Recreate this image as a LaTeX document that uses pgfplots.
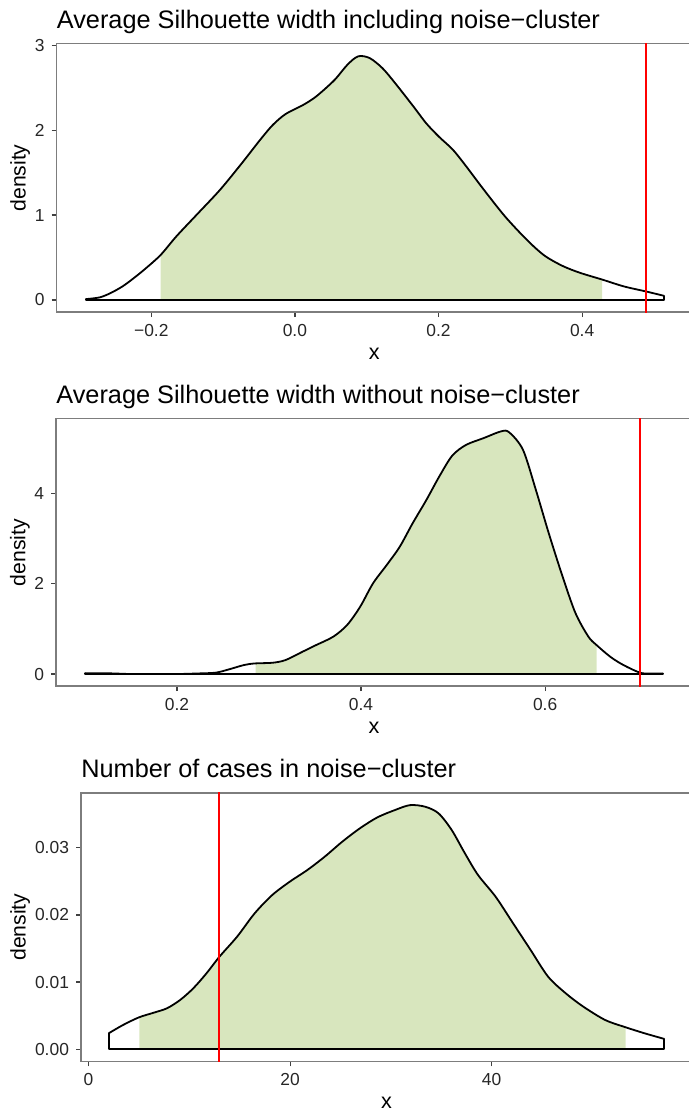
\documentclass[border=0pt]{standalone}
\usepackage{fontspec}
\setmainfont{Liberation Sans}
\usepackage{pgfplots}
\usepackage{pgfplotstable}
\pgfplotsset{compat=1.18}
\usepgfplotslibrary{fillbetween}
\definecolor{fillg}{RGB}{216,230,190}
\definecolor{framec}{RGB}{125,125,125}

\pgfplotstableread{
x y
-0.291 0.01
-0.272 0.03
-0.257 0.08
-0.240 0.16
-0.224 0.26
-0.208 0.37
-0.187 0.53
-0.165 0.75
-0.135 1.02
-0.104 1.30
-0.074 1.61
-0.049 1.88
-0.031 2.06
-0.013 2.19
0.012 2.30
0.030 2.40
0.055 2.59
0.073 2.77
0.088 2.87
0.104 2.85
0.122 2.73
0.140 2.55
0.165 2.28
0.183 2.08
0.201 1.92
0.220 1.77
0.238 1.58
0.263 1.30
0.293 0.98
0.324 0.70
0.348 0.52
0.373 0.40
0.397 0.32
0.428 0.24
0.458 0.16
0.489 0.10
0.5135 0.05
}\curveA

\pgfplotstableread{
x y
0.100 0.015
0.127 0.015
0.151 0.0
0.199 0.0
0.222 0.012
0.242 0.03
0.256 0.10
0.273 0.20
0.285 0.235
0.304 0.25
0.318 0.31
0.337 0.50
0.351 0.64
0.370 0.83
0.385 1.09
0.399 1.49
0.413 2.01
0.428 2.42
0.442 2.82
0.456 3.34
0.471 3.86
0.485 4.38
0.499 4.84
0.514 5.08
0.533 5.23
0.552 5.38
0.561 5.36
0.576 4.97
0.590 4.08
0.604 3.12
0.619 2.16
0.633 1.35
0.647 0.83
0.656 0.64
0.671 0.38
0.685 0.20
0.703 0.03
0.714 0.01
0.728 0.01
}\curveB

\pgfplotstableread{
x y
2.0 0.00238
3.43 0.00362
5.0 0.00475
6.48 0.00545
7.78 0.0061
9.09 0.00734
10.39 0.00907
11.7 0.0113
13.0 0.0138
14.74 0.01676
16.48 0.02023
18.22 0.02295
19.96 0.02494
21.7 0.02667
23.43 0.02866
25.17 0.03089
26.91 0.03287
28.65 0.03451
30.39 0.0356
31.91 0.03634
33.43 0.03609
34.74 0.0351
36.04 0.03262
37.35 0.02915
38.65 0.02593
40.39 0.02271
42.13 0.01874
43.87 0.01477
45.6 0.01081
47.35 0.00833
49.09 0.00635
51.26 0.00436
53.3 0.00327
55.17 0.00238
57.13 0.00154
}\curveC

\pgfplotsset{
  dens/.style={
    scale only axis,
    anchor=south west,
    axis line style={framec, line width=0.7pt},
    tick style={black!75, line width=0.6pt},
    tick align=outside,
    major tick length=2.5pt,
    tick pos=left,
    scaled ticks=false,
    ticklabel style={font=\fontsize{8.7}{10}\selectfont, text=black!85},
    xlabel={x}, ylabel={density},
    every axis x label/.style={at={(axis description cs:0.5,0)}, anchor=center, yshift=-20.6pt,
      font=\fontsize{10.8}{12}\selectfont},
    every axis y label/.style={rotate=90, anchor=center,
      font=\fontsize{10.6}{12}\selectfont},
    every axis title shift=0pt,
    title style={at={(axis description cs:0,1)}, anchor=base west, yshift=7.85pt,
      font=\fontsize{12.65}{15}\selectfont, inner sep=0pt},
    curve/.style={black, line width=0.9pt, smooth, line join=round},
    edge/.style={black, line width=0.9pt, line join=round, line cap=round},
    vline/.style={red, line width=0.8pt},
  }
}

\begin{document}
\begin{tikzpicture}
% ---------- Panel 1 ----------
\begin{axis}[dens,
  at={(28.25pt,400.4pt)}, width=317.75pt, height=134.2pt,
  xmin=-0.332, xmax=0.553, ymin=-0.144, ymax=3.018,
  xtick={-0.2,0,0.2,0.4}, xticklabels={−0.2,0.0,0.2,0.4},
  ytick={0,1,2,3}, yticklabels={0,1,2,3},
  ylabel style={at={(axis description cs:-0.0574,0.5)}},
  title={Average Silhouette width including noise−cluster}]
  \addplot[draw=none, name path=c1, smooth] table[x=x,y=y] {\curveA};
  \addplot[draw=none, name path=b1] coordinates {(-0.4,0) (0.6,0)};
  \addplot[fillg, draw=none] fill between[of=c1 and b1, soft clip={domain=-0.187:0.428}];
  \addplot[curve] table[x=x,y=y] {\curveA};
  \addplot[edge] coordinates {(0.5135,0.05) (0.5135,0) (-0.291,0) (-0.291,0.01)};
  \addplot[vline] coordinates {(0.489,-0.5) (0.489,3.5)};
\end{axis}
% ---------- Panel 2 ----------
\begin{axis}[dens,
  at={(28pt,213.4pt)}, width=318pt, height=133.7pt,
  xmin=0.0686, xmax=0.7596, ymin=-0.27, ymax=5.66,
  xtick={0.2,0.4,0.6}, xticklabels={0.2,0.4,0.6},
  ytick={0,2,4}, yticklabels={0,2,4},
  ylabel style={at={(axis description cs:-0.0566,0.5)}},
  title={Average Silhouette width without noise−cluster}]
  \addplot[draw=none, name path=c2, smooth] table[x=x,y=y] {\curveB};
  \addplot[draw=none, name path=b2] coordinates {(0,0) (0.8,0)};
  \addplot[fillg, draw=none] fill between[of=c2 and b2, soft clip={domain=0.2854:0.656}];
  \addplot[curve] table[x=x,y=y] {\curveB};
  \addplot[edge] coordinates {(0.728,0.01) (0.728,0) (0.100,0) (0.100,0.015)};
  \addplot[vline] coordinates {(0.703,-0.5) (0.703,6)};
\end{axis}
% ---------- Panel 3 ----------
\begin{axis}[dens,
  at={(40.5pt,25.75pt)}, width=305.5pt, height=134.3pt,
  xmin=-0.75, xmax=59.88, ymin=-0.00182, ymax=0.03816,
  xtick={0,20,40}, xticklabels={0,20,40},
  ytick={0,0.01,0.02,0.03}, yticklabels={0.00,0.01,0.02,0.03},
  ylabel style={at={(axis description cs:-0.0998,0.5)}},
  title={Number of cases in noise−cluster}]
  \addplot[draw=none, name path=c3, smooth] table[x=x,y=y] {\curveC};
  \addplot[draw=none, name path=b3] coordinates {(-1,0) (60,0)};
  \addplot[fillg, draw=none] fill between[of=c3 and b3, soft clip={domain=5.05:53.3}];
  \addplot[curve] table[x=x,y=y] {\curveC};
  \addplot[edge] coordinates {(57.13,0.00154) (57.13,0) (2.0,0) (2.0,0.00238)};
  \addplot[vline] coordinates {(12.97,-0.005) (12.97,0.045)};
\end{axis}
\pgfresetboundingbox
\path (0,0) rectangle (344.5pt,556.5pt);
\end{tikzpicture}
\end{document}
